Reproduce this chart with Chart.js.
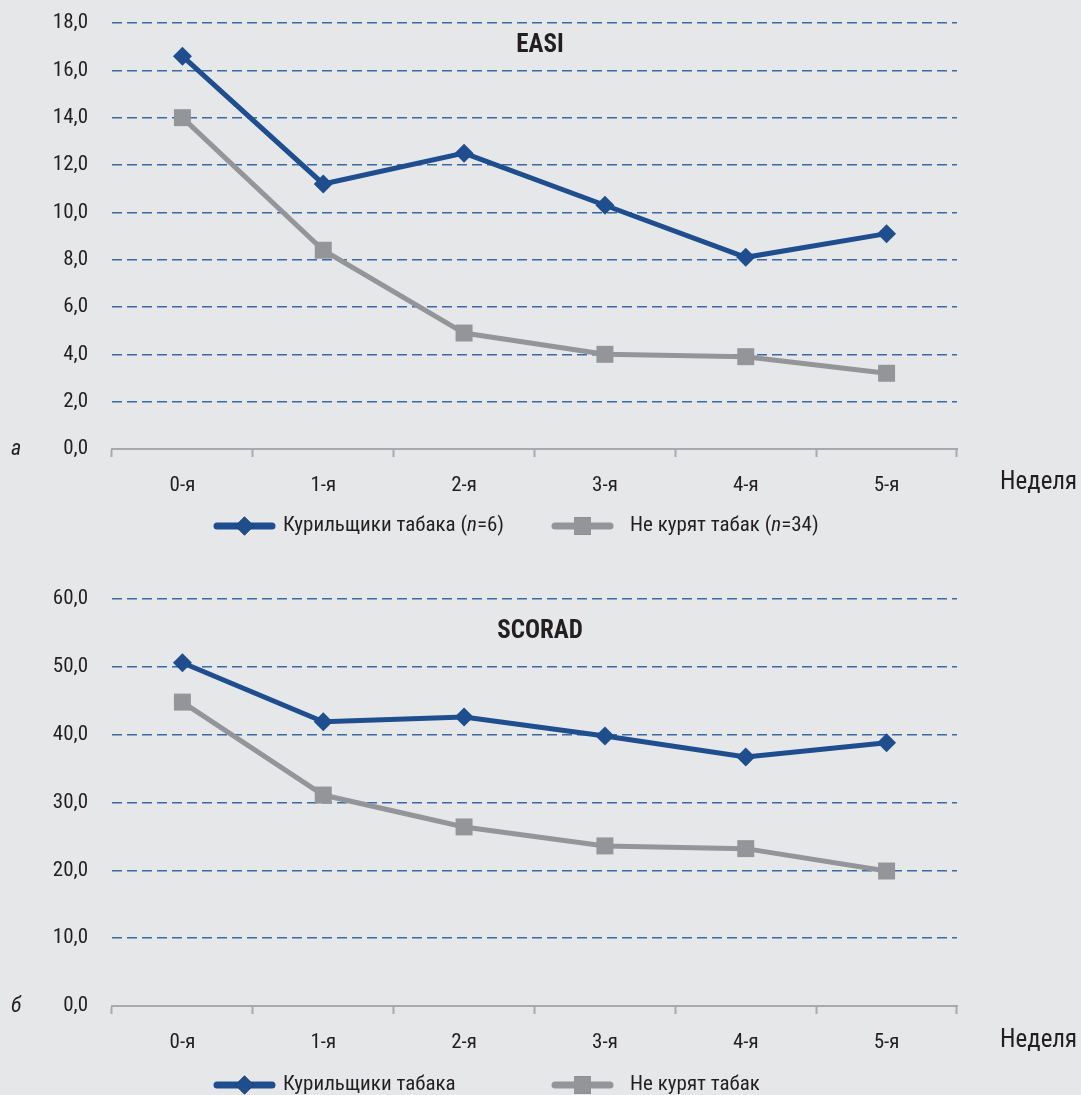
<!DOCTYPE html>
<html>
<head>
<meta charset="utf-8">
<script src="https://cdn.jsdelivr.net/npm/chart.js@4.4.0/dist/chart.umd.min.js"></script>
<style>
  body { margin: 0; background: #e6e7e9; }
  #wrap { position: relative; width: 1081px; height: 1095px; background: #e6e7e9; }
  canvas { position: absolute; left: 0; }
  #c1 { top: 0; }
  #c2 { top: 560px; }
</style>
</head>
<body>
<div id="wrap">
  <canvas id="c1" width="1081" height="560"></canvas>
  <canvas id="c2" width="1081" height="535"></canvas>
</div>
<script>
// данные
const weeks = ['0-я', '1-я', '2-я', '3-я', '4-я', '5-я'];
const easiSmokers = [16.6, 11.2, 12.5, 10.3, 8.1, 9.1];
const easiNonSmokers = [14.0, 8.4, 4.9, 4.0, 3.9, 3.2];
const scoradSmokers = [50.6, 41.9, 42.6, 39.8, 36.7, 38.8];
const scoradNonSmokers = [44.8, 31.1, 26.4, 23.6, 23.2, 19.9];

const FONT = '"Roboto Condensed", "Liberation Sans Narrow", "DejaVu Sans Condensed", sans-serif';
const BLUE = '#1f4e8f';
const GREY = '#939598';
const TEXT = '#231f20';

// подписи, буквы, легенда
const extras = {
    id: 'extras',
    afterDraw(chart, args, opts) {
        const ctx = chart.ctx;
        const area = chart.chartArea;
        ctx.save();
        ctx.fillStyle = TEXT;
        ctx.textBaseline = 'middle';

        ctx.font = 'bold 25px ' + FONT;
        ctx.textAlign = 'center';
        ctx.fillText(opts.title, 540, opts.titleY);

        ctx.font = 'italic 22px ' + FONT;
        ctx.textAlign = 'left';
        ctx.fillText(opts.letter, 11, area.bottom);

        ctx.font = '25px ' + FONT;
        ctx.fillText('Неделя', 1000, opts.weekY);

        // легенда
        const y = opts.legendY;
        chart.data.datasets.forEach((ds, i) => {
            const x0 = opts.legendX[i];
            ctx.strokeStyle = ds.borderColor;
            ctx.lineWidth = 7;
            ctx.lineCap = 'round';
            ctx.beginPath();
            ctx.moveTo(x0, y);
            ctx.lineTo(x0 + 55, y);
            ctx.stroke();
            Chart.helpers.drawPoint(ctx, {
                pointStyle: ds.pointStyle,
                radius: ds.pointRadius,
                rotation: 0,
                borderWidth: 0
            }, x0 + 27.5, y);
            ctx.fillStyle = ds.borderColor;
            ctx.fill();

            ctx.fillStyle = TEXT;
            let x = opts.textX[i];
            opts.legendText[i].forEach(part => {
                ctx.font = (part.italic ? 'italic ' : '') + '21px ' + FONT;
                ctx.fillText(part.t, x, y);
                x += ctx.measureText(part.t).width;
            });
        });
        ctx.restore();
    }
};

function fmt(v) {
    return v.toFixed(1).replace('.', ',');
}

function makeChart(id, s1, s2, max, step, padTop, xHeight, extra) {
    return new Chart(document.getElementById(id), {
        type: 'line',
        data: {
            labels: weeks,
            datasets: [{
                label: 'Курильщики табака',
                data: s1,
                borderColor: BLUE,
                backgroundColor: BLUE,
                borderWidth: 5,
                pointStyle: 'rectRot',
                pointRadius: 9.5,
                pointBorderWidth: 0,
                tension: 0
            }, {
                label: 'Не курят табак',
                data: s2,
                borderColor: GREY,
                backgroundColor: GREY,
                borderWidth: 5,
                pointStyle: 'rect',
                pointRadius: 12,
                pointBorderWidth: 0,
                tension: 0
            }]
        },
        options: {
            responsive: false,
            animation: false,
            layout: { padding: { top: padTop, right: 124, left: 0, bottom: 0 } },
            plugins: {
                legend: { display: false },
                tooltip: { enabled: false },
                extras: extra
            },
            scales: {
                x: {
                    offset: true,
                    grid: {
                        offset: true,
                        drawOnChartArea: false,
                        tickLength: 8,
                        tickColor: '#a7a9ac',
                        tickWidth: 2
                    },
                    border: { color: '#a7a9ac', width: 2 },
                    ticks: {
                        color: TEXT,
                        padding: 16,
                        font: { family: FONT, size: 21 }
                    },
                    afterFit(scale) { scale.height = xHeight; }
                },
                y: {
                    min: 0,
                    max: max,
                    ticks: {
                        stepSize: step,
                        color: TEXT,
                        padding: 0,
                        font: { family: FONT, size: 21 },
                        callback: v => fmt(v)
                    },
                    grid: {
                        drawTicks: true,
                        tickLength: 24,
                        tickColor: 'rgba(0,0,0,0)',
                        lineWidth: 1.5,
                        color: c => c.tick.value === 0 ? 'rgba(0,0,0,0)' : '#3a6aa3'
                    },
                    border: { display: false, dash: [10, 5] },
                    afterFit(scale) { scale.width = 112; }
                }
            }
        },
        plugins: [extras]
    });
}

const easiChart = makeChart('c1', easiSmokers, easiNonSmokers, 18, 2, 23, 111, {
    title: 'EASI',
    titleY: 46,
    letter: 'а',
    weekY: 483,
    legendY: 526,
    legendX: [217, 555],
    textX: [283, 630],
    legendText: [
        [{ t: 'Курильщики табака (' }, { t: 'n', italic: true }, { t: '=6)' }],
        [{ t: 'Не курят табак (' }, { t: 'n', italic: true }, { t: '=34)' }]
    ]
});

const scoradChart = makeChart('c2', scoradSmokers, scoradNonSmokers, 60, 10, 39, 89, {
    title: 'SCORAD',
    titleY: 72,
    letter: 'б',
    weekY: 481,
    legendY: 525,
    legendX: [217, 555],
    textX: [283, 630],
    legendText: [
        [{ t: 'Курильщики табака' }],
        [{ t: 'Не курят табак' }]
    ]
});
</script>
</body>
</html>
